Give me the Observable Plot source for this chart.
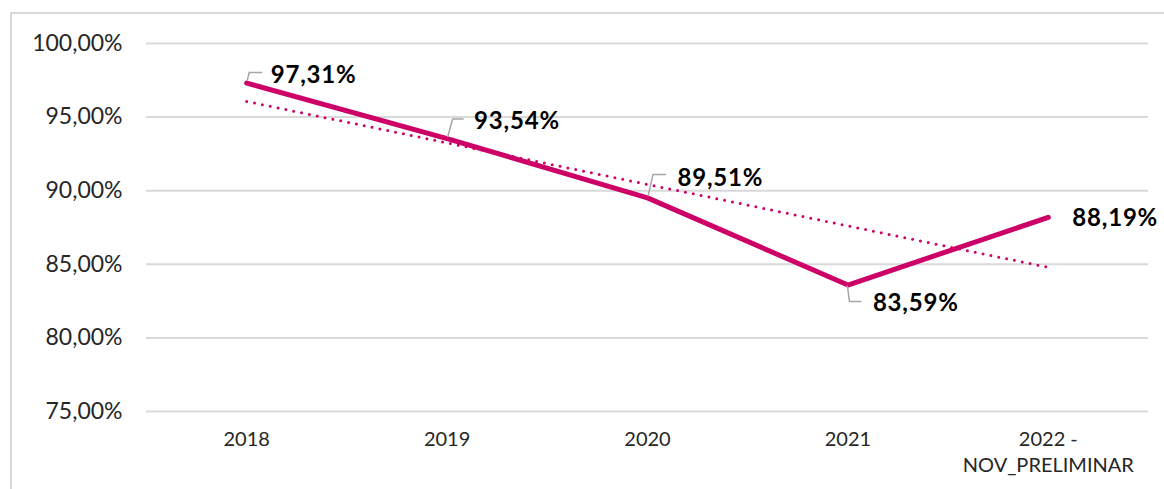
<!DOCTYPE html>
<html><head><meta charset="utf-8">
<script src="https://cdn.jsdelivr.net/npm/d3@7"></script>
<script src="https://cdn.jsdelivr.net/npm/@observablehq/plot@0.6"></script>
<style>
html,body{margin:0;padding:0;background:#fff;width:1164px;height:489px;overflow:hidden;}
#frame{position:absolute;left:10px;top:12px;width:1180px;height:520px;border:2px solid #d9d9d9;box-sizing:border-box;}
#chart{position:absolute;left:0;top:0;}
</style></head><body><div id="frame"></div><div id="chart"></div>
<script>
// ---- data ----
const categories = ["2018", "2019", "2020", "2021", "2022 -\nNOV_PRELIMINAR"];
const values = [97.31, 93.54, 89.51, 83.59, 88.19];
const yTicks = [75, 80, 85, 90, 95, 100];

// ---- styling (pixel offsets for labels / leader lines) ----
const labelOffsets = [
  {dx: 24, dy: -8,  leader: [[1,-2],[3,-10],[16,-10]]},
  {dx: 27, dy: -17, leader: [[1,-1],[6,-19],[17,-19]]},
  {dx: 30, dy: -20, leader: [[1,-1],[6,-23],[19,-23]]},
  {dx: 25, dy: 18,  leader: [[0,1],[2,17],[14,17]]},
  {dx: 24, dy: 1,   leader: null}
];

const data = values.map((v, i) => ({i, v, label: v.toFixed(2).replace(".", ",") + "%"}));
const pink = "#cc0066";

const leaders = Plot.dot(data, {
  x: "i", y: "v", r: 0,
  render(index, scales, vals) {
    const g = d3.create("svg:g");
    for (const k of index) {
      const L = labelOffsets[k].leader;
      if (!L) continue;
      const px = vals.x[k], py = vals.y[k];
      g.append("path")
        .attr("d", "M" + L.map(([a, b]) => `${px + a},${py + b}`).join("L"))
        .attr("fill", "none").attr("stroke", "#a6a6a6").attr("stroke-width", 1.5);
    }
    return g.node();
  }
});

const chart = Plot.plot({
  width: 1164,
  height: 489,
  marginLeft: 146,
  marginRight: 16,
  marginTop: 43,
  marginBottom: 78,
  style: {fontFamily: "Lato, 'Open Sans', sans-serif", background: "transparent", overflow: "visible"},
  x: {type: "linear", domain: [-0.5, 4.5], label: null},
  y: {domain: [75, 100], label: null},
  marks: [
    Plot.ruleY(yTicks, {stroke: "#d9d9d9", strokeWidth: 2}),
    Plot.axisY({ticks: yTicks, label: null, tickSize: 0, tickPadding: 24, tickFormat: d => d.toFixed(2).replace(".", ",") + "%", fontSize: 23, fill: "#262626"}),
    Plot.axisX({ticks: [0,1,2,3,4], label: null, tickSize: 0, tickPadding: 16, tickFormat: i => categories[i], fontSize: 20, fill: "#262626", lineHeight: 1.3}),
    Plot.linearRegressionY(data, {x: "i", y: "v", ci: 0, stroke: pink, strokeWidth: 3, strokeDasharray: "0 8", strokeLinecap: "round"}),
    Plot.line(data, {x: "i", y: "v", stroke: pink, strokeWidth: 5, strokeLinejoin: "round", strokeLinecap: "round"}),
    leaders,
    Plot.text(data, {x: "i", y: "v", text: "label", textAnchor: "start",
      fontSize: 24, fontWeight: "bold", fill: "#000",
      render(index, scales, vals, dims, ctx, next) {
        const node = next(index, scales, vals, dims, ctx);
        d3.select(node).style("letter-spacing", "0.8px").selectAll("text").each(function(_, j) {
          const k = index[j];
          const o = labelOffsets[k];
          d3.select(this).attr("transform", `translate(${vals.x[k] + o.dx},${vals.y[k] + o.dy})`);
        });
        return node;
      }
    })
  ]
});
document.getElementById("chart").append(chart);
</script></body></html>
